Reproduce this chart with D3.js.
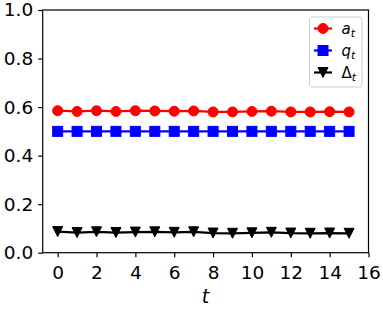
<!DOCTYPE html>
<html>
<head>
<meta charset="utf-8">
<script src="https://cdn.jsdelivr.net/npm/d3@7"></script>
<style>
  body { margin: 0; background: #fff; }
  svg { display: block; font-family: "DejaVu Sans", sans-serif; }
</style>
</head>
<body>
<svg id="chart"></svg>
<script>
// values
const steps = d3.range(0, 16);
const aVals = [0.585, 0.582, 0.585, 0.582, 0.585, 0.584, 0.583, 0.584, 0.580, 0.580, 0.582, 0.583, 0.580, 0.580, 0.581, 0.580];
const qVals = [0.5, 0.5, 0.5, 0.5, 0.5, 0.5, 0.5, 0.5, 0.5, 0.5, 0.5, 0.5, 0.5, 0.5, 0.5, 0.5];
const dVals = [0.087, 0.083, 0.086, 0.083, 0.085, 0.086, 0.084, 0.086, 0.081, 0.080, 0.082, 0.084, 0.081, 0.080, 0.081, 0.080];
const xTicks = [0, 2, 4, 6, 8, 10, 12, 14, 16];
const yTicks = [0, 0.2, 0.4, 0.6, 0.8, 1.0];

const svgWidth = 383;
const svgHeight = 310;
const margin = { top: 10, right: 14.5, bottom: 57.3, left: 42.7 };
const width = svgWidth - margin.left - margin.right;
const height = svgHeight - margin.top - margin.bottom;

const svg = d3.select("#chart")
    .attr("width", svgWidth)
    .attr("height", svgHeight);

const chart = svg.append("g")
    .attr("transform", "translate(" + margin.left + "," + margin.top + ")");

// scales
const xScale = d3.scaleLinear().domain([-0.77, 16]).range([0, width]);
const yScale = d3.scaleLinear().domain([0, 1]).range([height, 0]);

// series setup
const series = [
  { name: "a", sub: "t", italic: true, values: aVals, color: "#ff0000", marker: "circle" },
  { name: "q", sub: "t", italic: true, values: qVals, color: "#0000ff", marker: "square" },
  { name: "\u0394", sub: "t", italic: false, values: dVals, color: "#000000", marker: "triangle" }
];

function drawMarker(g, type, color) {
  if (type === "circle") {
    g.append("circle").attr("r", 5).attr("fill", color).attr("stroke", color).attr("stroke-width", 1);
  } else if (type === "square") {
    g.append("rect").attr("x", -5).attr("y", -5).attr("width", 10).attr("height", 10)
      .attr("fill", color).attr("stroke", color).attr("stroke-width", 1);
  } else {
    g.append("path").attr("d", "M0,5L-5,-5L5,-5Z")
      .attr("fill", color).attr("stroke", color).attr("stroke-width", 1).attr("stroke-linejoin", "miter");
  }
}

const line = d3.line()
    .x((d, i) => xScale(steps[i]))
    .y(d => yScale(d));

series.forEach(function (s) {
  chart.append("path")
      .datum(s.values)
      .attr("fill", "none")
      .attr("stroke", s.color)
      .attr("stroke-width", 2.2)
      .attr("d", line);

  chart.selectAll(".m-" + s.marker)
      .data(s.values)
      .enter().append("g")
      .attr("class", "m-" + s.marker)
      .attr("transform", (d, i) => "translate(" + xScale(steps[i]) + "," + yScale(d) + ")")
      .each(function () { drawMarker(d3.select(this), s.marker, s.color); });
});

// axes
const xAxis = chart.append("g")
    .attr("transform", "translate(0," + height + ")")
    .call(d3.axisBottom(xScale).tickValues(xTicks).tickSize(4.5).tickPadding(8.5).tickSizeOuter(0));

const yAxis = chart.append("g")
    .call(d3.axisLeft(yScale).tickValues(yTicks).tickFormat(d3.format(".1f")).tickSize(4.5).tickPadding(5).tickSizeOuter(0));

[xAxis, yAxis].forEach(function (ax) {
  ax.select(".domain").remove();
  ax.selectAll("line").attr("stroke", "#000").attr("stroke-width", 1.2);
  ax.selectAll("text")
      .attr("fill", "#000")
      .style("font-family", "DejaVu Sans")
      .style("font-size", "18.5px");
});

// frame
chart.append("rect")
    .attr("width", width)
    .attr("height", height)
    .attr("fill", "none")
    .attr("stroke", "#000")
    .attr("stroke-width", 1.2);

// x label
svg.append("text")
    .attr("x", margin.left + width / 2)
    .attr("y", 303)
    .attr("text-anchor", "middle")
    .style("font-size", "19px")
    .style("font-style", "italic")
    .text("t");

// legend
const legend = svg.append("g").attr("transform", "translate(309.5,17)");
legend.append("rect")
    .attr("width", 52.5)
    .attr("height", 70)
    .attr("rx", 3)
    .attr("fill", "#fff")
    .attr("fill-opacity", 0.8)
    .attr("stroke", "#cccccc")
    .attr("stroke-width", 1);

series.forEach(function (s, i) {
  const row = legend.append("g").attr("transform", "translate(0," + (11.5 + i * 22) + ")");
  row.append("line")
      .attr("x1", 4.5).attr("x2", 22.5)
      .attr("stroke", s.color).attr("stroke-width", 2.2);
  const m = row.append("g").attr("transform", "translate(13.5,0)");
  drawMarker(m, s.marker, s.color);
  const txt = row.append("text")
      .attr("x", 32)
      .attr("y", 5)
      .style("font-size", "15px");
  txt.append("tspan")
      .style("font-style", s.italic ? "italic" : "normal")
      .text(s.name);
  txt.append("tspan")
      .attr("dy", 3.5)
      .style("font-size", "11px")
      .style("font-style", "italic")
      .text(s.sub);
});
</script>
</body>
</html>
